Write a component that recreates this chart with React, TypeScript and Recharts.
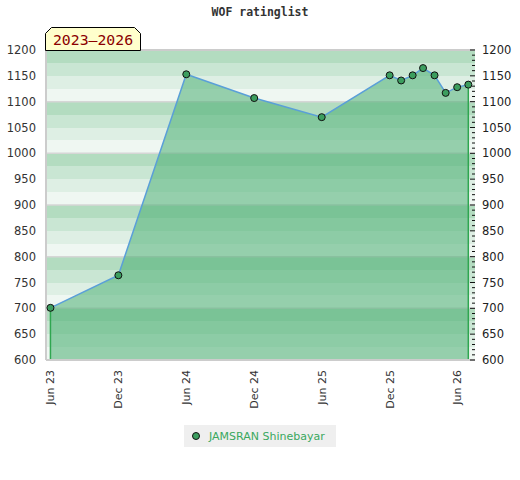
import React from "react";
import {
  ComposedChart,
  Area,
  Line,
  XAxis,
  YAxis,
  CartesianGrid,
  ReferenceLine,
} from "recharts";

// ---- data ----
const dates: number[] = [
  Date.UTC(2023, 5, 1),
  Date.UTC(2023, 11, 1),
  Date.UTC(2024, 5, 1),
  Date.UTC(2024, 11, 1),
  Date.UTC(2025, 5, 1),
  Date.UTC(2025, 11, 1),
  Date.UTC(2026, 0, 1),
  Date.UTC(2026, 1, 1),
  Date.UTC(2026, 2, 1),
  Date.UTC(2026, 3, 1),
  Date.UTC(2026, 4, 1),
  Date.UTC(2026, 5, 1),
  Date.UTC(2026, 6, 1),
];
const ratings: number[] = [701, 764, 1153, 1107, 1070, 1151, 1141, 1151, 1165, 1151, 1117, 1128, 1133];

const xTicks: number[] = [
  Date.UTC(2023, 5, 1),
  Date.UTC(2023, 11, 1),
  Date.UTC(2024, 5, 1),
  Date.UTC(2024, 11, 1),
  Date.UTC(2025, 5, 1),
  Date.UTC(2025, 11, 1),
  Date.UTC(2026, 5, 1),
];
const xDomain: number[] = [Date.UTC(2023, 4, 20), Date.UTC(2026, 6, 19)];
const yTicks: number[] = [600, 650, 700, 750, 800, 850, 900, 950, 1000, 1050, 1100, 1150, 1200];
const gridTicks100: number[] = [600, 700, 800, 900, 1000, 1100, 1200];
const minorStep = 10;
const bandStep = 25;
const playerName = "JAMSRAN Shinebayar";
const chartTitle = "WOF ratinglist";
const periodLabel = "2023–2026";
const monthNames = ["Jan", "Feb", "Mar", "Apr", "May", "Jun", "Jul", "Aug", "Sep", "Oct", "Nov", "Dec"];

// ---- styles ----
const bandColors = ["#b3dcc0", "#c9e6d3", "#deefe4", "#eff7f2"];
const FONT = "'DejaVu Sans', Verdana, sans-serif";
const MONO = "'DejaVu Sans Mono', monospace";

const data = dates.map((d, i) => ({ date: d, rating: ratings[i] }));
const yMin = yTicks[0];
const yMax = yTicks[yTicks.length - 1];

const bandTicks: number[] = [];
for (let v = yMin; v <= yMax; v += bandStep) bandTicks.push(v);
const minorTicks: number[] = [];
for (let v = yMin; v <= yMax; v += minorStep) minorTicks.push(v);

const fmtDate = (t: number) => {
  const d = new Date(t);
  return `${monthNames[d.getUTCMonth()]} ${String(d.getUTCFullYear()).slice(2)}`;
};

const XTick = (props: any) => {
  const { x, y, payload } = props;
  return (
    <text
      x={x}
      y={y}
      transform={`rotate(-90 ${x} ${y})`}
      textAnchor="end"
      dy="0.36em"
      fontSize={11}
      fontFamily={FONT}
      fill="#333"
    >
      {fmtDate(payload.value)}
    </text>
  );
};

const LeftTick = (props: any) => {
  const { x, y, payload } = props;
  return (
    <text x={x} y={y} dy="0.36em" textAnchor="end" fontSize={11.5} fontFamily={FONT} fill="#333">
      {payload.value}
    </text>
  );
};

const RightTick = (props: any) => {
  const { x, y, payload } = props;
  const v = payload.value;
  const major = v % 50 === 0;
  const edge = x - 7;
  return (
    <g>
      <line x1={edge - (major ? 5 : 3)} x2={edge} y1={y} y2={y} stroke="#111" strokeWidth={1} />
      {major && (
        <text x={x} y={y} dy="0.36em" textAnchor="start" fontSize={11.5} fontFamily={FONT} fill="#222">
          {v}
        </text>
      )}
    </g>
  );
};

const Dot = (props: any) => {
  const { cx, cy } = props;
  if (cx == null || cy == null) return null;
  return <circle cx={cx} cy={cy} r={3.5} fill="#3c9e5f" stroke="#111" strokeWidth={1} />;
};

export default function App() {
  const last = data.length - 1;
  return (
    <div style={{ position: "absolute", left: 0, top: 0, width: 520, height: 480, background: "#fff" }}>
      <div
        style={{
          position: "absolute",
          left: 0,
          width: 520,
          top: 5,
          textAlign: "center",
          fontFamily: MONO,
          fontWeight: "bold",
          fontSize: 11.5,
          color: "#333",
        }}
      >
        {chartTitle}
      </div>
      <ComposedChart
        width={520}
        height={480}
        data={data}
        margin={{ top: 50, right: 0, left: 0, bottom: 60 }}
      >
        <YAxis
          yAxisId="left"
          orientation="left"
          domain={[yMin, yMax]}
          ticks={yTicks}
          interval={0}
          width={46}
          tick={<LeftTick />}
          tickLine={false}
          tickSize={0}
          tickMargin={10}
          axisLine={{ stroke: "#cccccc", strokeWidth: 2 }}
          allowDataOverflow
        />
        <YAxis
          yAxisId="right"
          orientation="right"
          domain={[yMin, yMax]}
          ticks={minorTicks}
          interval={0}
          width={45}
          tick={<RightTick />}
          tickLine={false}
          tickSize={0}
          tickMargin={7}
          axisLine={false}
          allowDataOverflow
        />
        <YAxis yAxisId="bands" hide width={0} domain={[yMin, yMax]} ticks={bandTicks} interval={0} allowDataOverflow />
        <YAxis yAxisId="grid100" hide width={0} domain={[yMin, yMax]} ticks={gridTicks100} interval={0} allowDataOverflow />
        <CartesianGrid
          yAxisId="bands"
          vertical={false}
          horizontal={true}
          stroke="none"
          horizontalFill={bandColors}
          fillOpacity={1}
        />
        <CartesianGrid
          yAxisId="grid100"
          vertical={false}
          horizontal={true}
          stroke="#d6d6d6"
          strokeWidth={1.5}
        />
        <XAxis
          dataKey="date"
          type="number"
          scale="time"
          domain={xDomain}
          ticks={xTicks}
          interval={0}
          tick={<XTick />}
          tickLine={false}
          tickSize={0}
          tickMargin={10}
          height={60}
          axisLine={{ stroke: "#cccccc", strokeWidth: 2 }}
          allowDataOverflow
        />
        <ReferenceLine yAxisId="left" y={yMax} stroke="#cccccc" strokeWidth={2} />
        <Area
          yAxisId="left"
          type="linear"
          dataKey="rating"
          stroke="none"
          fill="#4aae72"
          fillOpacity={0.55}
          baseValue={yMin}
          isAnimationActive={false}
          dot={false}
          activeDot={false}
        />
        <ReferenceLine
          yAxisId="left"
          segment={[
            { x: dates[0], y: yMin },
            { x: dates[0], y: ratings[0] },
          ]}
          stroke="#2fa650"
          strokeWidth={1.5}
        />
        <ReferenceLine
          yAxisId="left"
          segment={[
            { x: dates[last], y: yMin },
            { x: dates[last], y: ratings[last] },
          ]}
          stroke="#2fa650"
          strokeWidth={1.5}
        />
        <Line
          yAxisId="left"
          type="linear"
          dataKey="rating"
          stroke="#5a9fd8"
          strokeWidth={1.5}
          dot={<Dot />}
          activeDot={false}
          isAnimationActive={false}
        />
      </ComposedChart>
      <svg style={{ position: "absolute", left: 0, top: 0 }} width={520} height={60}>
        <polygon
          points="45.5,33.5 51.5,27.5 134.5,27.5 140.5,33.5 140.5,50.5 45.5,50.5"
          fill="#ffffcc"
          stroke="#000"
          strokeWidth={1}
        />
        <text x={93} y={45} textAnchor="middle" fontFamily={MONO} fontSize={14.8} fill="#8b0000">
          {periodLabel}
        </text>
      </svg>
      <div
        style={{
          position: "absolute",
          left: 184,
          top: 425,
          width: 152,
          height: 22,
          background: "#efefef",
          display: "flex",
          alignItems: "center",
          fontFamily: FONT,
          fontSize: 11,
          color: "#3aa85e",
        }}
      >
        <svg width={25} height={22} style={{ flex: "none" }}>
          <circle cx={12} cy={11} r={3.5} fill="#3c9e5f" stroke="#111" strokeWidth={1} />
        </svg>
        <span>{playerName}</span>
      </div>
    </div>
  );
}
